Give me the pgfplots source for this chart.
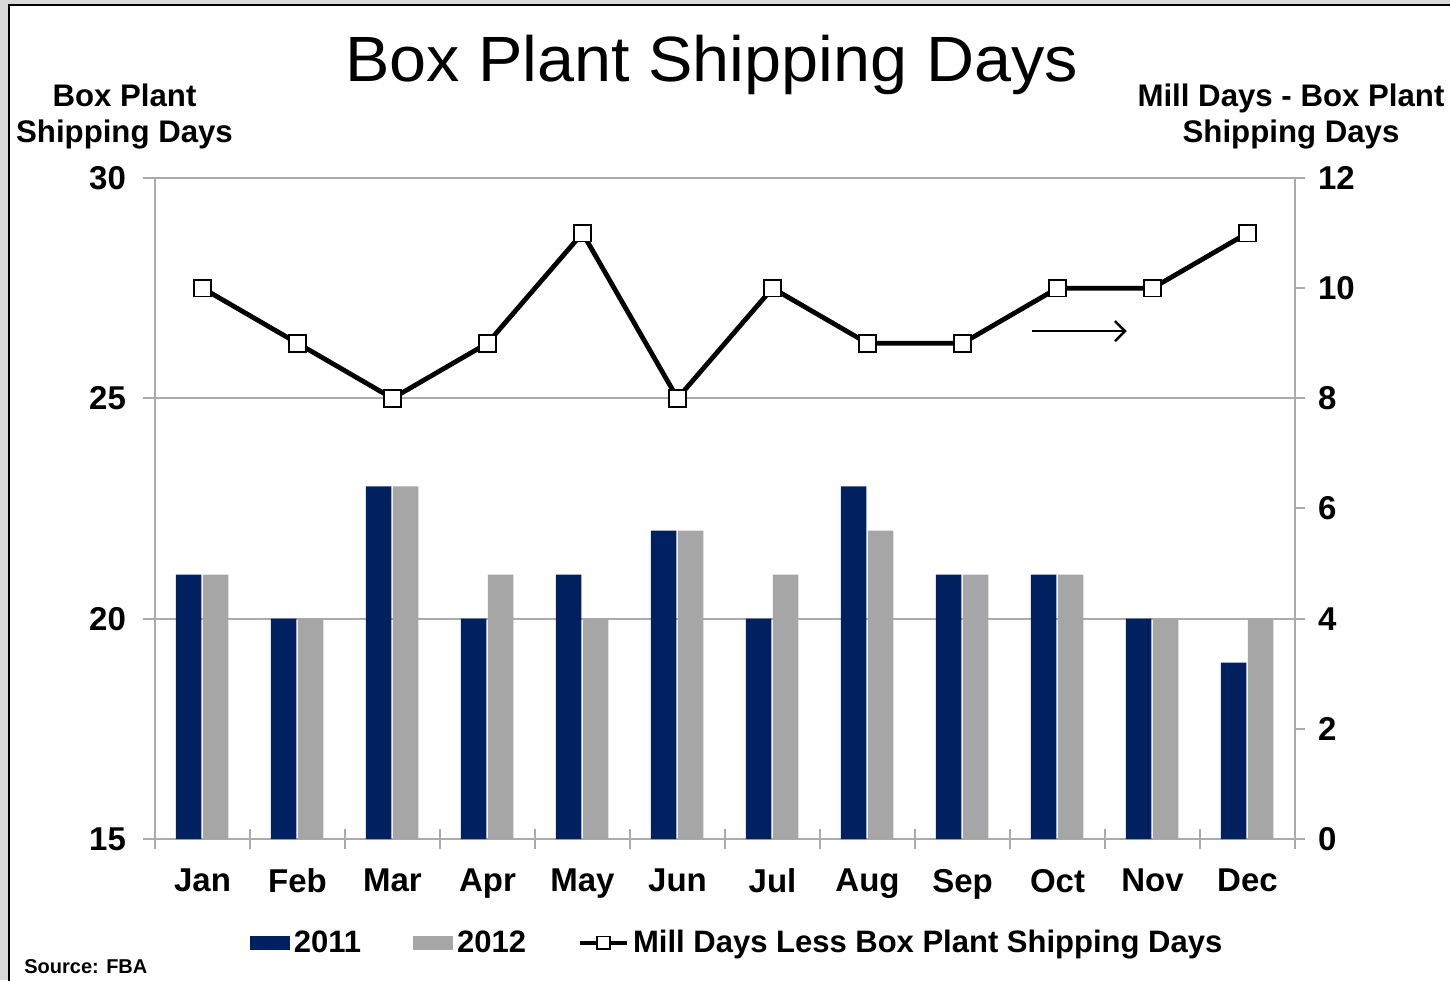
\documentclass[border=0pt]{standalone}
\usepackage{fontspec}
\setmainfont{Liberation Sans}
\newfontfamily\titlefont{Liberation Sans}[FakeStretch=1.04]
\usepackage{pgfplots}
\pgfplotsset{compat=1.18}
\usetikzlibrary{arrows.meta}
\definecolor{navy}{HTML}{002060}
\definecolor{barg}{HTML}{A6A6A6}
\definecolor{axg}{HTML}{ABABAB}
\definecolor{frameg}{HTML}{D9D9D9}
\pgfplotsset{
  millleg/.style={legend image code/.code={%
    \draw[mark repeat=2,mark phase=2,##1] plot coordinates {(0pt,0pt) (11.75pt,0pt) (23.5pt,0pt)};}},
}

\begin{document}
\begin{tikzpicture}
% page frame, in pixel units (1px = 0.5pt, origin top left)
\begin{scope}[shift={(0pt,490pt)},x=0.5pt,y=-0.5pt]
\useasboundingbox (0,0) rectangle (1450,980);
\fill[frameg] (0,0) rectangle (1450,980);
\fill[white] (9,5) rectangle (1470,1000);
\draw[black, line width=1.2pt] (9,1000) -- (9,5) -- (1470,5);
\node[anchor=base, font=\titlefont\fontsize{32}{38}\selectfont] at (711.5,82) {Box Plant Shipping Days};
\node[anchor=base, font=\bfseries\fontsize{15.6}{18}\selectfont] at (124.5,107) {Box Plant};
\node[anchor=base, font=\bfseries\fontsize{15.6}{18}\selectfont] at (124.5,143) {Shipping Days};
\node[anchor=base, font=\bfseries\fontsize{15.6}{18}\selectfont] at (1291,107) {Mill Days - Box Plant};
\node[anchor=base, font=\bfseries\fontsize{15.6}{18}\selectfont] at (1291,143) {Shipping Days};
\node[anchor=base west, inner sep=0pt, font=\bfseries\fontsize{10}{12}\selectfont] at (24,973) {Source: FBA};
\end{scope}

\begin{axis}[
  at={(77.5pt,70.5pt)}, anchor=south west,
  scale only axis, width=570pt, height=330.5pt,
  xmin=-0.5, xmax=11.5, ymin=15, ymax=30,
  ytick={15,20,25,30}, ymajorgrids,
  grid style={axg, line width=1pt},
  axis line style={axg, line width=1pt},
  tick style={axg, line width=1pt},
  tick align=outside, major tick length=6pt,
  xtick={0,...,11},
  xticklabels={Jan,Feb,Mar,Apr,May,Jun,Jul,Aug,Sep,Oct,Nov,Dec},
  x tick style={draw=none},
  extra x ticks={-0.5,0.5,...,11.5}, extra x tick labels={},
  extra x tick style={tick align=center, major tick length=10pt, x tick style={draw=axg}},
  xtick pos=bottom, ytick pos=left,
  /pgf/number format/assume math mode=true,
  yticklabel style={font=\bfseries\fontsize{16.5}{19}\selectfont, xshift=-5pt},
  xticklabel style={font=\bfseries\fontsize{16.5}{20}\selectfont, yshift=-5.5pt},
  legend columns=3,
  legend cell align=left,
  legend style={at={(axis description cs:0.5115,-0.157)}, anchor=center,
    draw=none, fill=none, inner sep=0pt,
    font=\bfseries\fontsize{15.5}{18}\selectfont,
    /tikz/every even column/.append style={column sep=24pt}},
]
\addplot[ybar, bar width=12.75pt, bar shift=-7pt, fill=navy, draw=none,
  legend image code/.code={\fill[navy] (0pt,-3.5pt) rectangle (20pt,3.5pt);}]
  coordinates {(0,21) (1,20) (2,23) (3,20) (4,21) (5,22) (6,20) (7,23) (8,21) (9,21) (10,20) (11,19)};
\addlegendentry{2011}
\addplot[ybar, bar width=12.75pt, bar shift=6.6pt, fill=barg, draw=none,
  legend image code/.code={\fill[barg] (0pt,-3.5pt) rectangle (20pt,3.5pt);}]
  coordinates {(0,21) (1,20) (2,23) (3,21) (4,20) (5,22) (6,21) (7,22) (8,21) (9,21) (10,20) (11,20)};
\addlegendentry{2012}
\addlegendimage{black, line width=2pt, mark=square*, mark size=3.2pt,
  mark options={fill=white, draw=black, line width=0.8pt}, millleg}
\addlegendentry{Mill Days Less Box Plant Shipping Days}
\end{axis}

\begin{axis}[
  at={(77.5pt,70.5pt)}, anchor=south west,
  scale only axis, width=570pt, height=330.5pt,
  xmin=-0.5, xmax=11.5, ymin=0, ymax=12,
  axis x line=none, axis y line*=right,
  ytick={0,2,...,12},
  axis line style={axg, line width=1pt},
  tick style={axg, line width=1pt},
  tick align=outside, major tick length=5pt,
  /pgf/number format/assume math mode=true,
  yticklabel style={font=\bfseries\fontsize{16.5}{19}\selectfont, xshift=3pt},
]
\addplot[black, line width=2.4pt, mark=square*, mark size=4.2pt,
  mark options={fill=white, draw=black, line width=0.9pt}]
  coordinates {(0,10) (1,9) (2,8) (3,9) (4,11) (5,8) (6,10) (7,9) (8,9) (9,10) (10,10) (11,11)};
\draw[black, line width=1.3pt, -{Straight Barb[length=5pt,width=10pt]}]
  (axis cs:8.73,9.22) -- (axis cs:9.73,9.22);
\end{axis}
\end{tikzpicture}
\end{document}
